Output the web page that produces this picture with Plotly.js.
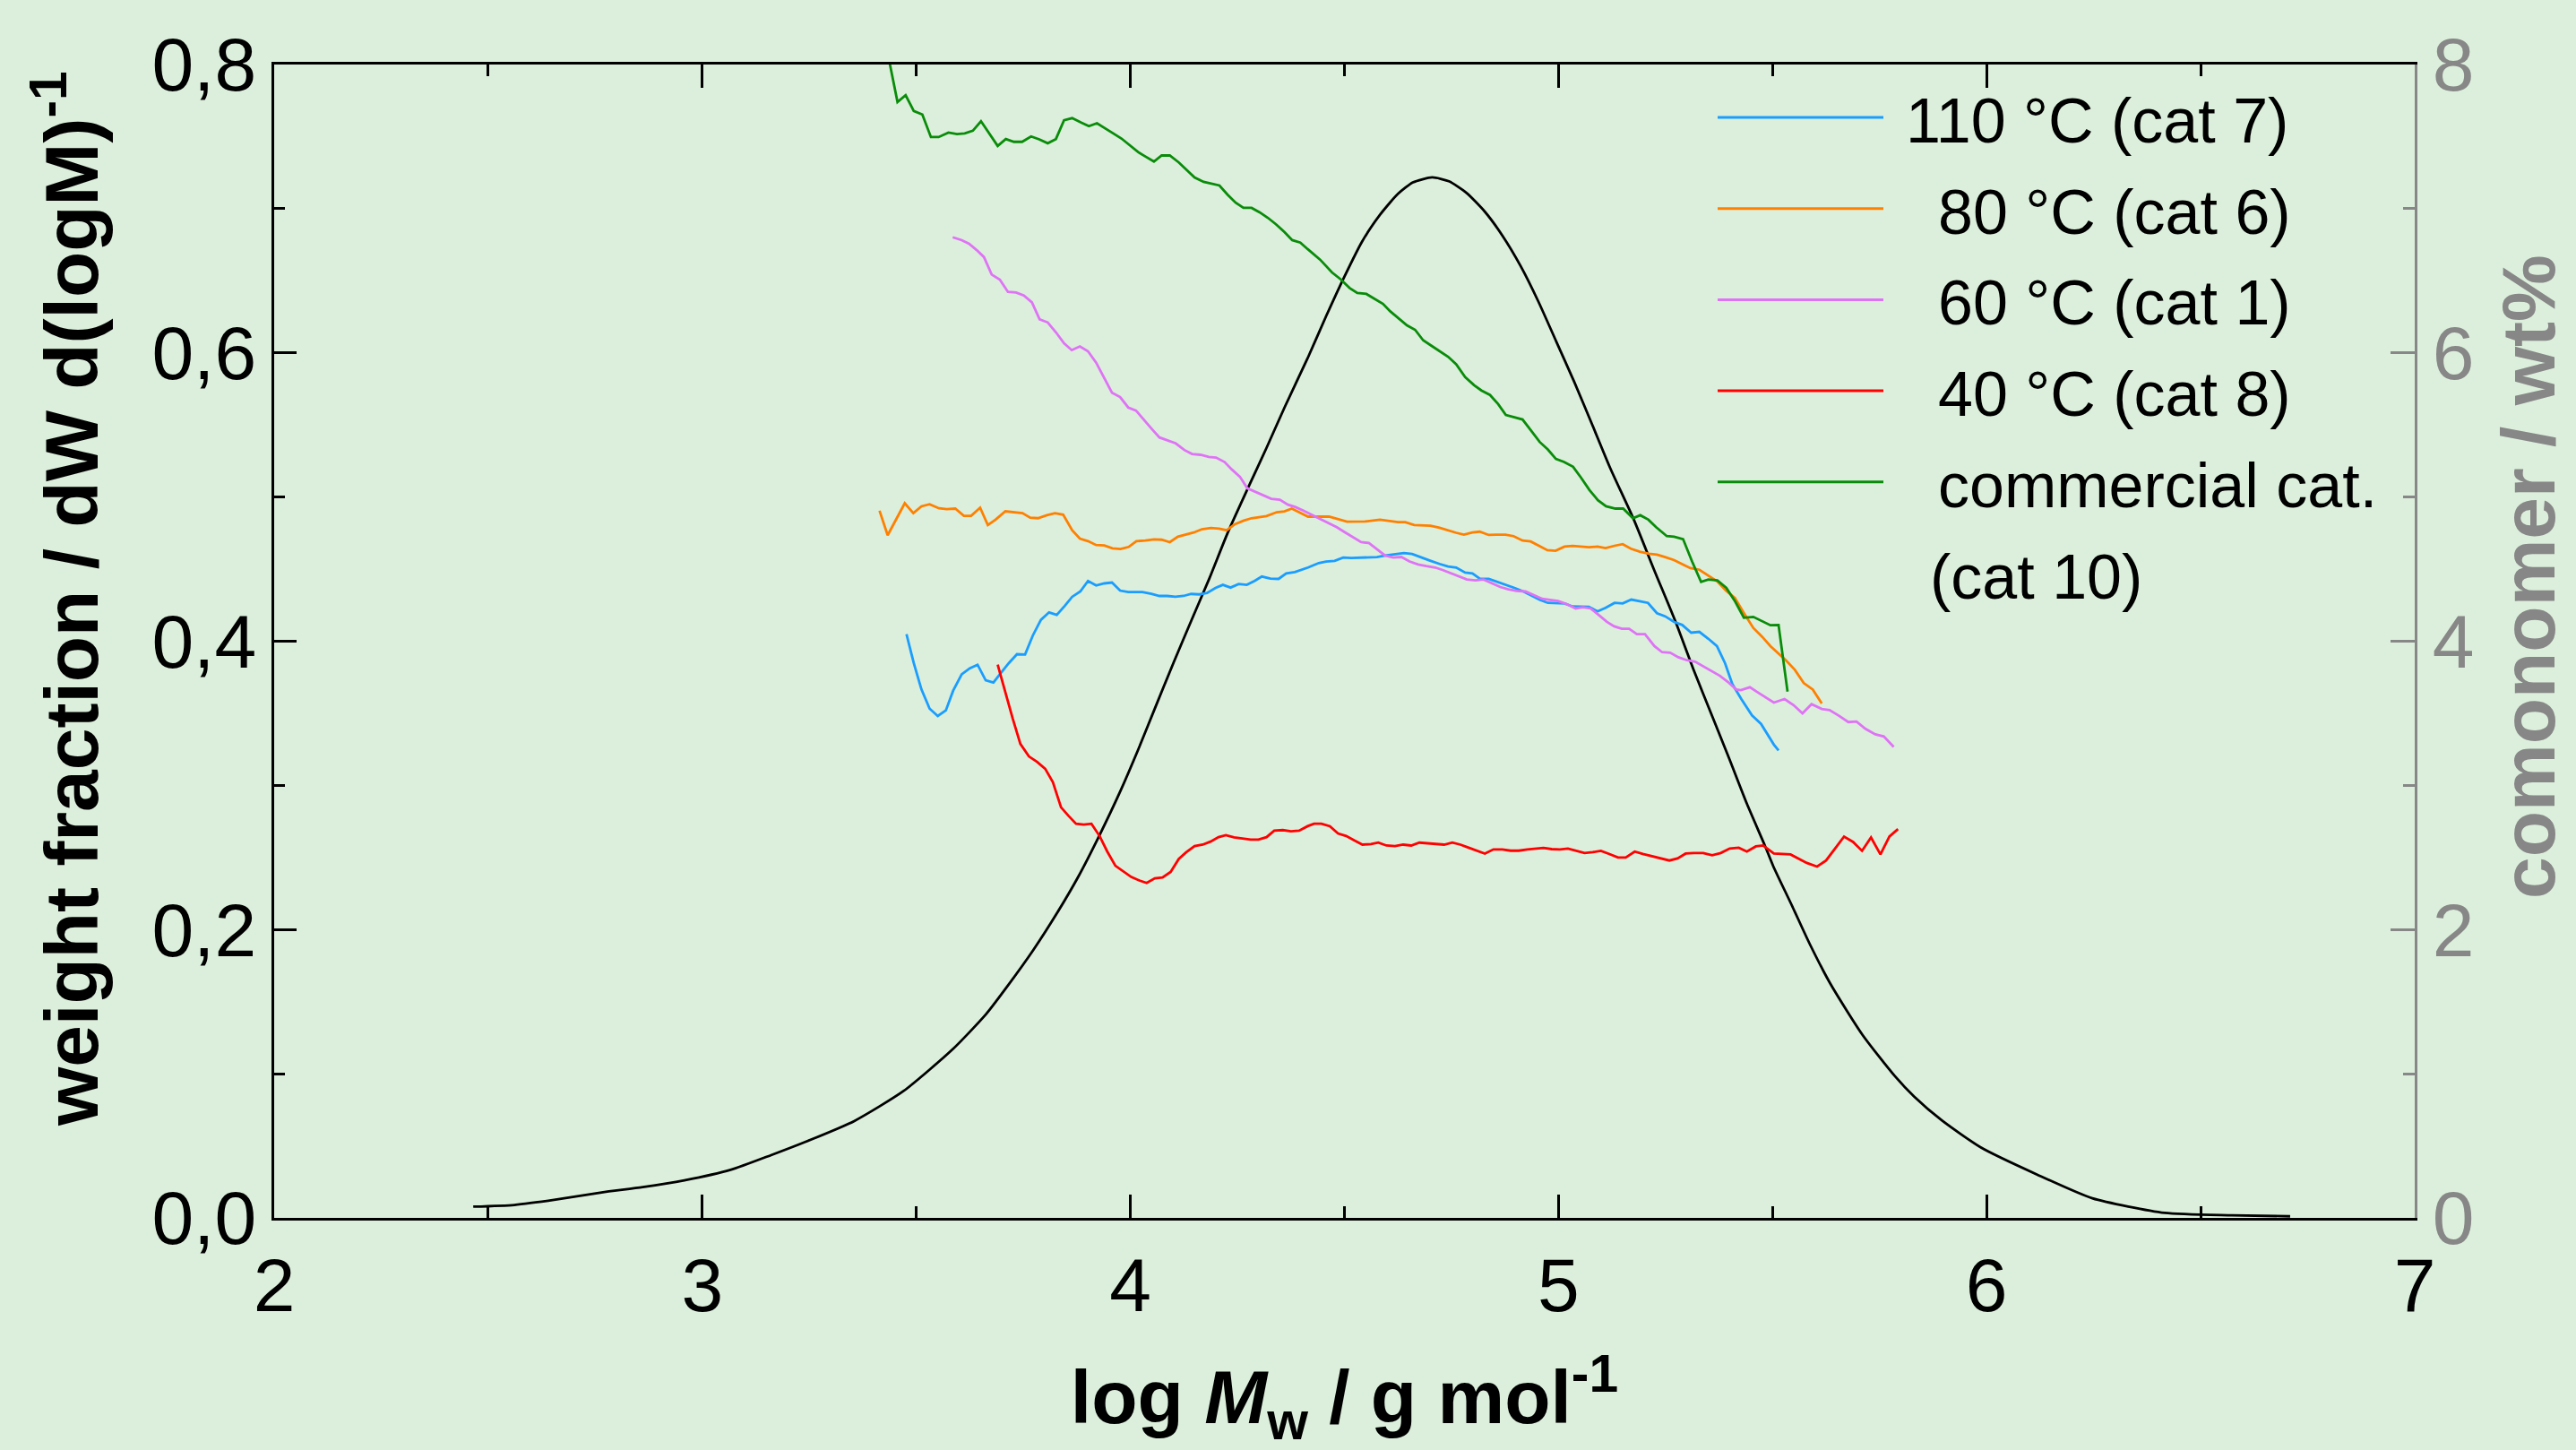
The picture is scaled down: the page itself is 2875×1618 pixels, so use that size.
<!DOCTYPE html>
<html>
<head>
<meta charset="utf-8">
<script src="https://cdn.plot.ly/plotly-3.0.1.min.js"></script>
<style>
  html, body { margin: 0; padding: 0; background: #dcefdc; }
  #chart { width: 2875px; height: 1618px; }
</style>
</head>
<body>
<div id="chart"></div>
<script>
// ---- data ----
// molecular weight distribution, left axis
const mwdX = [2.465, 2.561, 2.657, 2.765, 2.861, 2.958, 3.066, 3.162, 3.243, 3.355, 3.470, 3.585, 3.662, 3.714, 3.773, 3.829, 3.878, 3.927, 3.976, 4.018, 4.059, 4.101, 4.143, 4.185, 4.227, 4.276, 4.318, 4.360, 4.414, 4.457, 4.499, 4.541, 4.583, 4.625, 4.660, 4.705, 4.744, 4.786, 4.828, 4.869, 4.911, 4.953, 4.995, 5.037, 5.078, 5.120, 5.176, 5.224, 5.273, 5.315, 5.357, 5.399, 5.440, 5.482, 5.502, 5.545, 5.587, 5.636, 5.710, 5.785, 5.831, 5.896, 5.987, 6.117, 6.247, 6.416, 6.573, 6.709];
const mwdY = [0.0078, 0.0090, 0.0126, 0.0177, 0.0213, 0.0260, 0.0333, 0.0437, 0.0530, 0.0672, 0.0880, 0.1170, 0.1410, 0.1612, 0.1857, 0.2116, 0.2365, 0.2649, 0.2956, 0.3246, 0.3547, 0.3852, 0.4148, 0.4439, 0.4750, 0.5071, 0.5341, 0.5621, 0.5963, 0.6253, 0.6523, 0.6771, 0.6958, 0.7103, 0.7182, 0.7217, 0.7190, 0.7107, 0.6979, 0.6813, 0.6605, 0.6356, 0.6077, 0.5797, 0.5507, 0.5206, 0.4843, 0.4490, 0.4138, 0.3806, 0.3495, 0.3184, 0.2873, 0.2583, 0.2437, 0.2168, 0.1899, 0.1619, 0.1270, 0.0986, 0.0841, 0.0675, 0.0488, 0.0302, 0.0136, 0.0035, 0.0018, 0.0011];

// comonomer content, right axis
const cat7X = [3.477, 3.494, 3.512, 3.531, 3.550, 3.569, 3.586, 3.606, 3.625, 3.643, 3.662, 3.680, 3.698, 3.716, 3.735, 3.754, 3.772, 3.791, 3.810, 3.828, 3.847, 3.864, 3.883, 3.901, 3.920, 3.939, 3.957, 3.976, 3.995, 4.028, 4.049, 4.068, 4.086, 4.105, 4.124, 4.142, 4.161, 4.179, 4.199, 4.216, 4.234, 4.253, 4.272, 4.290, 4.307, 4.327, 4.346, 4.364, 4.384, 4.401, 4.415, 4.440, 4.457, 4.477, 4.497, 4.516, 4.537, 4.555, 4.576, 4.595, 4.618, 4.639, 4.658, 4.679, 4.700, 4.722, 4.742, 4.761, 4.782, 4.799, 4.816, 4.837, 4.858, 4.878, 4.897, 4.918, 4.937, 4.956, 4.975, 4.994, 5.014, 5.033, 5.052, 5.071, 5.091, 5.110, 5.131, 5.150, 5.170, 5.190, 5.209, 5.230, 5.249, 5.270, 5.289, 5.310, 5.329, 5.350, 5.370, 5.389, 5.406, 5.427, 5.452, 5.473, 5.490, 5.503, 5.514];
const cat7Y = [4.049, 3.848, 3.665, 3.532, 3.481, 3.520, 3.657, 3.771, 3.812, 3.837, 3.729, 3.713, 3.781, 3.848, 3.910, 3.908, 4.039, 4.148, 4.200, 4.183, 4.246, 4.308, 4.345, 4.418, 4.387, 4.401, 4.407, 4.351, 4.341, 4.341, 4.328, 4.314, 4.314, 4.308, 4.314, 4.328, 4.325, 4.335, 4.370, 4.391, 4.372, 4.397, 4.391, 4.418, 4.449, 4.434, 4.432, 4.470, 4.480, 4.496, 4.511, 4.542, 4.552, 4.557, 4.580, 4.577, 4.580, 4.584, 4.584, 4.594, 4.605, 4.611, 4.605, 4.580, 4.559, 4.536, 4.518, 4.511, 4.476, 4.470, 4.434, 4.432, 4.412, 4.391, 4.370, 4.345, 4.314, 4.287, 4.266, 4.262, 4.262, 4.241, 4.241, 4.238, 4.207, 4.231, 4.266, 4.262, 4.289, 4.279, 4.266, 4.194, 4.173, 4.134, 4.113, 4.059, 4.065, 4.017, 3.966, 3.848, 3.703, 3.599, 3.485, 3.427, 3.350, 3.283, 3.242];

const cat6X = [3.414, 3.433, 3.473, 3.493, 3.512, 3.531, 3.553, 3.571, 3.591, 3.611, 3.628, 3.649, 3.667, 3.685, 3.708, 3.728, 3.748, 3.766, 3.784, 3.805, 3.824, 3.843, 3.864, 3.882, 3.901, 3.920, 3.939, 3.958, 3.977, 3.996, 4.014, 4.035, 4.055, 4.073, 4.092, 4.111, 4.129, 4.148, 4.167, 4.188, 4.207, 4.225, 4.244, 4.265, 4.283, 4.318, 4.342, 4.360, 4.377, 4.395, 4.415, 4.464, 4.506, 4.548, 4.583, 4.625, 4.642, 4.663, 4.701, 4.722, 4.743, 4.761, 4.779, 4.799, 4.816, 4.837, 4.855, 4.876, 4.895, 4.916, 4.935, 4.955, 4.974, 4.993, 5.014, 5.033, 5.054, 5.071, 5.091, 5.110, 5.131, 5.150, 5.169, 5.190, 5.211, 5.230, 5.249, 5.270, 5.291, 5.308, 5.329, 5.350, 5.371, 5.391, 5.412, 5.432, 5.455, 5.476, 5.495, 5.531, 5.552, 5.573, 5.594, 5.615];
const cat6Y = [4.905, 4.735, 4.957, 4.888, 4.936, 4.950, 4.922, 4.916, 4.920, 4.870, 4.870, 4.926, 4.806, 4.843, 4.901, 4.895, 4.888, 4.857, 4.853, 4.874, 4.888, 4.878, 4.770, 4.712, 4.694, 4.667, 4.664, 4.644, 4.640, 4.654, 4.694, 4.698, 4.706, 4.704, 4.687, 4.725, 4.739, 4.754, 4.777, 4.785, 4.781, 4.770, 4.812, 4.837, 4.853, 4.868, 4.895, 4.901, 4.920, 4.895, 4.864, 4.864, 4.829, 4.830, 4.843, 4.826, 4.826, 4.806, 4.801, 4.787, 4.766, 4.752, 4.739, 4.754, 4.760, 4.737, 4.739, 4.739, 4.729, 4.698, 4.692, 4.661, 4.631, 4.627, 4.656, 4.661, 4.658, 4.652, 4.656, 4.646, 4.662, 4.673, 4.642, 4.621, 4.607, 4.600, 4.583, 4.563, 4.532, 4.507, 4.496, 4.455, 4.414, 4.351, 4.300, 4.200, 4.092, 4.030, 3.966, 3.868, 3.802, 3.709, 3.665, 3.568];

const cat1X = [3.585, 3.606, 3.623, 3.641, 3.658, 3.676, 3.695, 3.714, 3.733, 3.751, 3.770, 3.788, 3.807, 3.826, 3.845, 3.863, 3.882, 3.901, 3.920, 3.937, 3.957, 3.976, 3.995, 4.013, 4.032, 4.049, 4.068, 4.087, 4.106, 4.126, 4.144, 4.164, 4.183, 4.200, 4.220, 4.237, 4.256, 4.273, 4.292, 4.311, 4.329, 4.349, 4.368, 4.386, 4.405, 4.447, 4.482, 4.502, 4.520, 4.539, 4.557, 4.577, 4.595, 4.614, 4.633, 4.652, 4.672, 4.691, 4.712, 4.729, 4.749, 4.767, 4.786, 4.806, 4.825, 4.844, 4.864, 4.883, 4.902, 4.923, 4.942, 4.962, 4.980, 4.999, 5.019, 5.040, 5.057, 5.075, 5.093, 5.113, 5.130, 5.148, 5.165, 5.183, 5.202, 5.224, 5.242, 5.261, 5.280, 5.300, 5.319, 5.338, 5.357, 5.377, 5.396, 5.415, 5.426, 5.447, 5.468, 5.489, 5.503, 5.528, 5.549, 5.570, 5.591, 5.615, 5.633, 5.654, 5.677, 5.696, 5.717, 5.740, 5.760, 5.783];
const cat1Y = [6.802, 6.782, 6.757, 6.713, 6.664, 6.543, 6.508, 6.423, 6.419, 6.398, 6.350, 6.232, 6.211, 6.143, 6.066, 6.019, 6.045, 6.011, 5.932, 5.838, 5.724, 5.693, 5.621, 5.600, 5.538, 5.476, 5.413, 5.392, 5.372, 5.326, 5.299, 5.293, 5.278, 5.274, 5.243, 5.191, 5.140, 5.061, 5.036, 5.009, 4.988, 4.982, 4.947, 4.930, 4.905, 4.843, 4.791, 4.754, 4.719, 4.687, 4.681, 4.636, 4.594, 4.580, 4.584, 4.553, 4.532, 4.521, 4.511, 4.494, 4.470, 4.449, 4.428, 4.422, 4.428, 4.403, 4.376, 4.360, 4.349, 4.345, 4.320, 4.294, 4.287, 4.279, 4.258, 4.227, 4.235, 4.227, 4.184, 4.134, 4.103, 4.086, 4.086, 4.049, 4.049, 3.966, 3.924, 3.920, 3.889, 3.868, 3.858, 3.827, 3.796, 3.760, 3.717, 3.665, 3.661, 3.681, 3.640, 3.599, 3.574, 3.599, 3.557, 3.499, 3.563, 3.530, 3.522, 3.485, 3.439, 3.443, 3.392, 3.354, 3.339, 3.267];

const cat8X = [3.690, 3.707, 3.725, 3.743, 3.763, 3.782, 3.801, 3.819, 3.838, 3.855, 3.873, 3.891, 3.909, 3.928, 3.946, 3.965, 3.984, 4.002, 4.021, 4.038, 4.057, 4.075, 4.094, 4.113, 4.130, 4.150, 4.169, 4.187, 4.206, 4.223, 4.242, 4.262, 4.281, 4.299, 4.318, 4.336, 4.356, 4.375, 4.394, 4.414, 4.429, 4.446, 4.466, 4.485, 4.504, 4.523, 4.542, 4.562, 4.579, 4.598, 4.618, 4.637, 4.656, 4.675, 4.694, 4.714, 4.733, 4.752, 4.771, 4.790, 4.809, 4.828, 4.848, 4.869, 4.888, 4.907, 4.927, 4.945, 4.965, 4.984, 5.003, 5.022, 5.042, 5.061, 5.080, 5.099, 5.119, 5.139, 5.157, 5.178, 5.197, 5.217, 5.237, 5.259, 5.278, 5.297, 5.316, 5.338, 5.359, 5.379, 5.400, 5.421, 5.440, 5.461, 5.478, 5.503, 5.542, 5.580, 5.604, 5.625, 5.646, 5.667, 5.688, 5.709, 5.730, 5.752, 5.773, 5.793];
const cat8Y = [3.837, 3.650, 3.464, 3.288, 3.201, 3.163, 3.115, 3.022, 2.848, 2.790, 2.734, 2.728, 2.734, 2.649, 2.541, 2.442, 2.400, 2.365, 2.340, 2.323, 2.355, 2.361, 2.400, 2.490, 2.535, 2.579, 2.589, 2.610, 2.641, 2.655, 2.639, 2.633, 2.624, 2.624, 2.641, 2.686, 2.690, 2.682, 2.686, 2.717, 2.734, 2.734, 2.717, 2.666, 2.649, 2.618, 2.589, 2.593, 2.603, 2.583, 2.579, 2.589, 2.583, 2.603, 2.597, 2.593, 2.589, 2.603, 2.589, 2.568, 2.546, 2.527, 2.556, 2.556, 2.547, 2.547, 2.556, 2.562, 2.566, 2.558, 2.556, 2.562, 2.547, 2.531, 2.537, 2.546, 2.524, 2.500, 2.500, 2.541, 2.524, 2.510, 2.493, 2.479, 2.493, 2.527, 2.531, 2.531, 2.516, 2.531, 2.562, 2.568, 2.541, 2.577, 2.583, 2.527, 2.521, 2.462, 2.437, 2.479, 2.562, 2.645, 2.608, 2.546, 2.639, 2.521, 2.645, 2.697];

const cat10X = [3.435, 3.456, 3.475, 3.494, 3.514, 3.534, 3.552, 3.575, 3.595, 3.613, 3.632, 3.651, 3.690, 3.709, 3.728, 3.747, 3.768, 3.787, 3.807, 3.826, 3.845, 3.864, 3.885, 3.903, 3.922, 3.941, 3.960, 3.979, 3.999, 4.018, 4.035, 4.055, 4.073, 4.092, 4.113, 4.133, 4.150, 4.171, 4.190, 4.208, 4.227, 4.246, 4.264, 4.283, 4.302, 4.321, 4.340, 4.360, 4.378, 4.397, 4.414, 4.443, 4.471, 4.492, 4.512, 4.530, 4.551, 4.569, 4.590, 4.607, 4.625, 4.646, 4.665, 4.684, 4.703, 4.722, 4.742, 4.761, 4.782, 4.803, 4.820, 4.840, 4.859, 4.877, 4.897, 4.916, 4.935, 4.956, 4.975, 4.994, 5.013, 5.034, 5.053, 5.072, 5.092, 5.111, 5.133, 5.151, 5.174, 5.191, 5.210, 5.228, 5.253, 5.270, 5.291, 5.312, 5.333, 5.350, 5.371, 5.392, 5.413, 5.433, 5.455, 5.476, 5.495, 5.514, 5.535];
const cat10Y = [8.050, 7.740, 7.787, 7.678, 7.653, 7.497, 7.497, 7.528, 7.518, 7.522, 7.541, 7.607, 7.435, 7.483, 7.464, 7.464, 7.501, 7.481, 7.454, 7.483, 7.613, 7.628, 7.597, 7.572, 7.593, 7.560, 7.522, 7.487, 7.439, 7.393, 7.362, 7.327, 7.369, 7.369, 7.321, 7.265, 7.217, 7.186, 7.174, 7.161, 7.097, 7.041, 7.006, 7.006, 6.975, 6.937, 6.892, 6.838, 6.782, 6.765, 6.720, 6.647, 6.558, 6.508, 6.450, 6.415, 6.409, 6.378, 6.340, 6.288, 6.243, 6.191, 6.160, 6.087, 6.050, 6.014, 5.973, 5.921, 5.832, 5.776, 5.739, 5.708, 5.645, 5.569, 5.552, 5.538, 5.465, 5.382, 5.330, 5.264, 5.243, 5.210, 5.133, 5.050, 4.978, 4.936, 4.920, 4.920, 4.853, 4.874, 4.843, 4.791, 4.729, 4.725, 4.708, 4.553, 4.412, 4.428, 4.422, 4.370, 4.273, 4.163, 4.169, 4.138, 4.111, 4.113, 3.650];

const seriesNames = ["110 °C (cat 7)", "80 °C (cat 6)", "60 °C (cat 1)", "40 °C (cat 8)", "commercial cat.<br>(cat 10)"];
const xTickVals = [2, 3, 4, 5, 6, 7];
const yTickVals = [0, 0.2, 0.4, 0.6, 0.8];
const y2TickVals = [0, 2, 4, 6, 8];

// ---- styles ----
const colors = ["#1a9dff", "#ff8000", "#df73f5", "#ff0000", "#098c09"];
const FONT = "Liberation Sans, Arial, Helvetica, sans-serif";
const GREY = "#878787";
const BG = "#dcefdc";
const W = 2875, H = 1618;
const M = {l: 306, r: 180, t: 72, b: 259};
const PW = W - M.l - M.r, PH = H - M.t - M.b;
const px2x = px => (px - M.l) / PW;
const px2y = py => (H - M.b - py) / PH;

const seriesX = [cat7X, cat6X, cat1X, cat8X, cat10X];
const seriesY = [cat7Y, cat6Y, cat1Y, cat8Y, cat10Y];

const traces = [{
  x: mwdX, y: mwdY, type: "scatter", mode: "lines", yaxis: "y",
  line: {color: "#000000", width: 2.8, shape: "spline", smoothing: 0.6},
  showlegend: false, hoverinfo: "skip"
}];
for (let i = 0; i < seriesX.length; i++) {
  traces.push({
    x: seriesX[i], y: seriesY[i], type: "scatter", mode: "lines", yaxis: "y2",
    name: seriesNames[i], line: {color: colors[i], width: 2.8},
    showlegend: false, hoverinfo: "skip"
  });
}

// hand-drawn legend (long line samples, as in the reference)
const shapes = [], annotations = [];
const legRow0 = 131, legStep = 101.7;
const legTextX = [2125, 2161, 2161, 2161, 2161];
for (let i = 0; i < seriesNames.length; i++) {
  const ly = legRow0 + legStep * i;
  shapes.push({type: "line", xref: "paper", yref: "paper",
    x0: px2x(1917), x1: px2x(2102), y0: px2y(ly), y1: px2y(ly),
    line: {color: colors[i], width: 3}});
  const parts = seriesNames[i].split("<br>");
  parts.forEach((p, j) => {
    annotations.push({xref: "paper", yref: "paper",
      x: px2x(j === 0 ? legTextX[i] : 2152), y: px2y(ly + 4 + j * legStep),
      xanchor: "left", yanchor: "middle", showarrow: false, text: p,
      font: {family: FONT, size: 70, color: "#000"}});
  });
}
// y axis titles
annotations.push({xref: "paper", yref: "paper", x: px2x(74), y: px2y(668),
  xanchor: "center", yanchor: "middle", showarrow: false, textangle: -90,
  text: "<b>weight fraction / dW d(logM)<sup>-1</sup></b>",
  font: {family: FONT, size: 84, color: "#000"}});
annotations.push({xref: "paper", yref: "paper", x: px2x(2822), y: px2y(644),
  xanchor: "center", yanchor: "middle", showarrow: false, textangle: -90,
  text: "<b>comonomer / wt%</b>",
  font: {family: FONT, size: 84, color: GREY}});

const layout = {
  width: W, height: H, margin: M,
  paper_bgcolor: BG, plot_bgcolor: BG,
  separators: ",.",
  showlegend: false,
  font: {family: FONT, size: 84, color: "#000"},
  xaxis: {
    range: [2, 7], tickvals: xTickVals, ticktext: xTickVals.map(String),
    ticks: "inside", ticklen: 26, tickwidth: 3, tickcolor: "#000",
    minor: {ticks: "inside", ticklen: 13, tickwidth: 3, tickcolor: "#000", dtick: 0.5, tick0: 2},
    showline: true, linecolor: "#000", linewidth: 3, mirror: "ticks",
    showgrid: false, zeroline: false, automargin: false,
    tickfont: {family: FONT, size: 84, color: "#000"},
    title: {text: "<b>log <i>M</i><sub>w</sub> / g mol<sup>-1</sup></b>",
      font: {family: FONT, size: 84, color: "#000"}, standoff: 74}
  },
  yaxis: {
    range: [0, 0.8], tickvals: yTickVals, tickformat: ".1f",
    ticks: "inside", ticklen: 25, tickwidth: 3, tickcolor: "#000",
    minor: {ticks: "inside", ticklen: 12, tickwidth: 3, tickcolor: "#000", dtick: 0.1, tick0: 0},
    showline: true, linecolor: "#000", linewidth: 3, mirror: false,
    showgrid: false, zeroline: false, automargin: false,
    tickfont: {family: FONT, size: 84, color: "#000"}
  },
  yaxis2: {
    range: [0, 8], tickvals: y2TickVals, overlaying: "y", side: "right",
    ticks: "inside", ticklen: 27, tickwidth: 3, tickcolor: GREY,
    minor: {ticks: "inside", ticklen: 13, tickwidth: 3, tickcolor: GREY, dtick: 1, tick0: 0},
    showline: true, linecolor: GREY, linewidth: 3,
    showgrid: false, zeroline: false, automargin: false,
    tickfont: {family: FONT, size: 84, color: GREY}
  },
  shapes: shapes,
  annotations: annotations
};

Plotly.newPlot("chart", traces, layout, {displayModeBar: false, staticPlot: true});
</script>
</body>
</html>
